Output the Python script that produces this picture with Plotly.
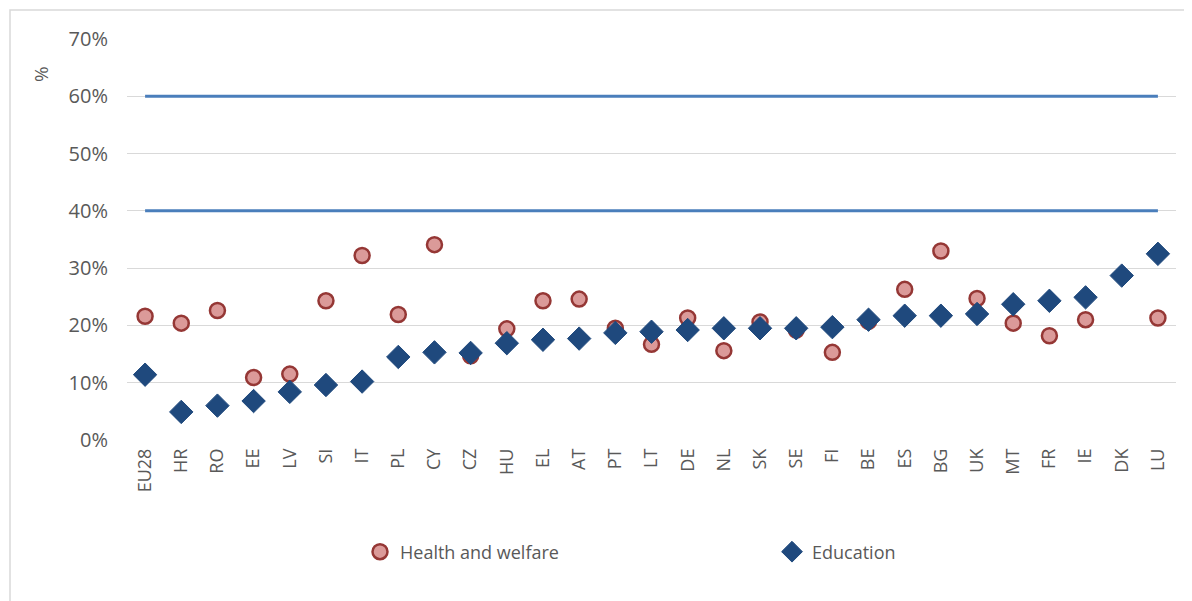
import plotly.graph_objects as go

countries = ["EU28", "HR", "RO", "EE", "LV", "SI", "IT", "PL", "CY", "CZ",
             "HU", "EL", "AT", "PT", "LT", "DE", "NL", "SK", "SE", "FI",
             "BE", "ES", "BG", "UK", "MT", "FR", "IE", "DK", "LU"]

health_welfare = [21.6, 20.4, 22.6, 10.9, 11.5, 24.3, 32.2, 21.9, 34.1, 14.7,
                  19.4, 24.3, 24.6, 19.5, 16.7, 21.3, 15.6, 20.6, 19.2, 15.3,
                  20.7, 26.3, 33.0, 24.7, 20.4, 18.2, 21.0, None, 21.3]

education = [11.4, 4.9, 6.0, 6.8, 8.4, 9.6, 10.2, 14.5, 15.3, 15.2,
             16.9, 17.5, 17.7, 18.7, 18.9, 19.2, 19.5, 19.5, 19.5, 19.7,
             21.0, 21.7, 21.7, 22.0, 23.7, 24.3, 24.9, 28.7, 32.5]

reference_levels = [40, 60]

y_ticks = [0, 10, 20, 30, 40, 50, 60, 70]
y_tick_labels = ["0%", "10%", "20%", "30%", "40%", "50%", "60%", "70%"]

# page body has an 8px margin; work in figure coordinates = page - 8
OFF = 8
W, H = 1192 - OFF, 601 - OFF
L, R, T, B = 127 - OFF, 16, 39 - OFF, 161
pw, ph = W - L - R, H - T - B

FONT = "Open Sans"
GRAY = "#595959"

fig = go.Figure()

for lvl in reference_levels:
    fig.add_trace(go.Scatter(
        x=[countries[0], countries[-1]], y=[lvl, lvl],
        mode="lines", line=dict(color="#4A7EBB", width=3),
        showlegend=False, hoverinfo="skip"))

fig.add_trace(go.Scatter(
    x=countries, y=health_welfare,
    mode="markers", name="Health and welfare",
    marker=dict(symbol="circle", size=15, color="#DB9A99",
                line=dict(color="#953735", width=2.5))))

fig.add_trace(go.Scatter(
    x=countries, y=education,
    mode="markers", name="Education",
    marker=dict(symbol="diamond", size=18, color="#1F497D",
                line=dict(color="#1F497D", width=1))))

def px_x(p):
    return (p - OFF - L) / pw

def px_y(p):
    return (H - B - (p - OFF)) / ph

fig.update_layout(
    width=W, height=H,
    margin=dict(l=L, r=R, t=T, b=B, autoexpand=False),
    paper_bgcolor="white", plot_bgcolor="white",
    font=dict(family=FONT, color=GRAY, size=17),
    xaxis=dict(type="category", categoryorder="array", categoryarray=countries,
               range=[-0.5, len(countries) - 0.5],
               showgrid=False, zeroline=False, showline=False,
               tickangle=-90, tickfont=dict(size=18, color=GRAY),
               ticks="", ticklabelstandoff=4, fixedrange=True),
    yaxis=dict(range=[0, 70], tickvals=y_ticks, ticktext=y_tick_labels,
               showgrid=True, gridcolor="#D9D9D9", gridwidth=1,
               zeroline=False, showline=False, ticks="",
               tickfont=dict(size=20, color=GRAY), ticklabelstandoff=18,
               fixedrange=True),
    legend=dict(orientation="h", x=px_x(360), y=px_y(552),
                xanchor="left", yanchor="middle",
                font=dict(size=18, color=GRAY),
                entrywidth=367, entrywidthmode="pixels",
                bgcolor="rgba(0,0,0,0)"),
    showlegend=True,
)

fig.add_annotation(text="%", textangle=-90, x=px_x(41), y=px_y(74),
                   xref="paper", yref="paper", showarrow=False,
                   xanchor="center", yanchor="middle",
                   font=dict(size=19, color=GRAY))

fig.add_shape(type="rect", xref="paper", yref="paper",
              x0=px_x(10), x1=px_x(1260), y0=px_y(660), y1=px_y(10),
              line=dict(color="#D9D9D9", width=1.5), fillcolor="rgba(0,0,0,0)",
              layer="below")

fig.write_html("out.html")
